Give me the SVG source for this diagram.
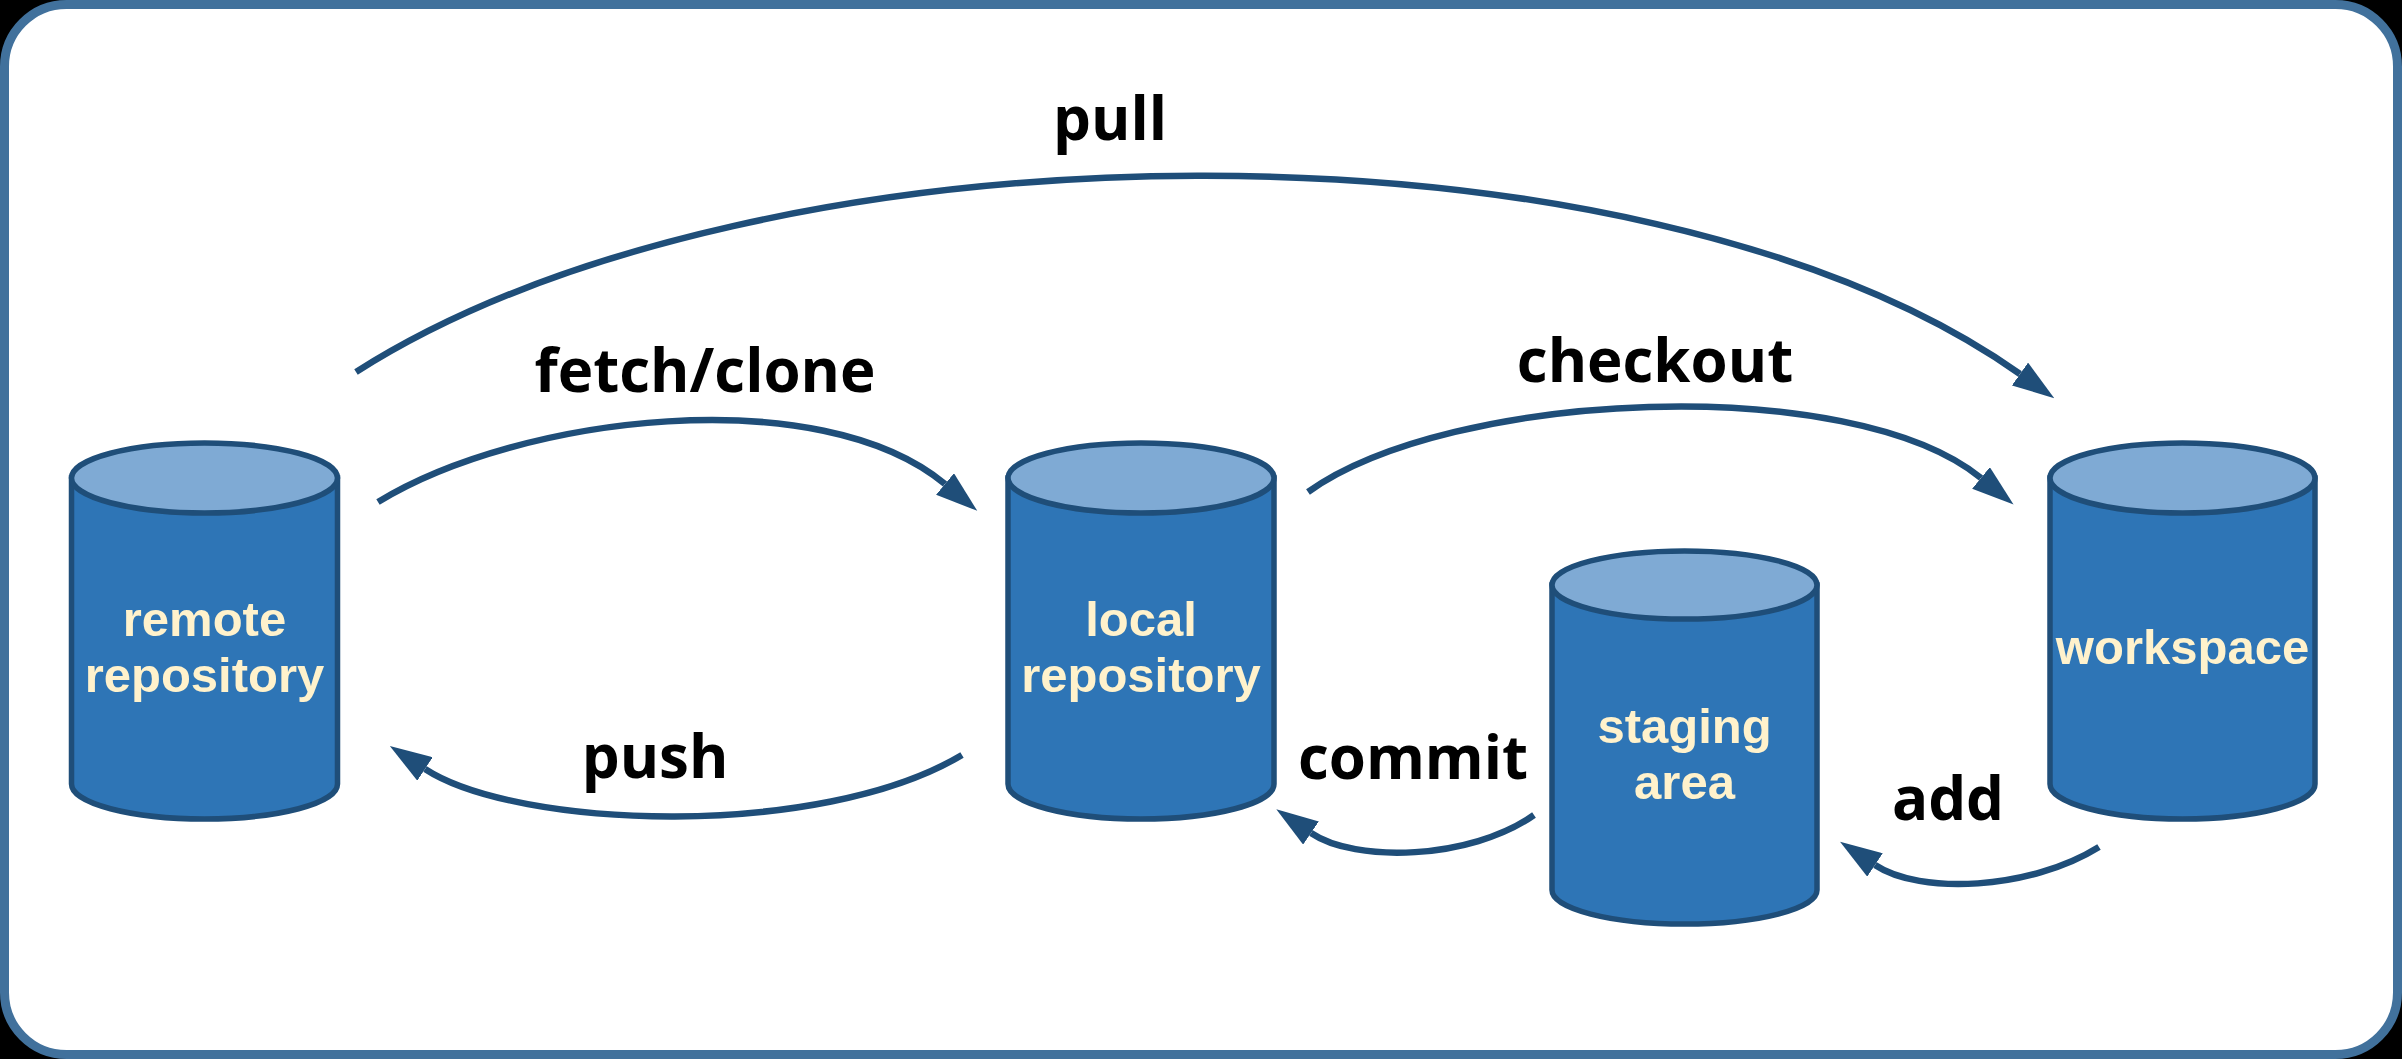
<svg xmlns="http://www.w3.org/2000/svg" width="2402" height="1059" viewBox="0 0 2402 1059">
<defs>
<style>
.frame{fill:#ffffff;stroke:#41719C;stroke-width:9}
.body{fill:#2E75B6;stroke:#1F4E79;stroke-width:5.5}
.top{fill:#7FAAD4;stroke:#1F4E79;stroke-width:5.5}
.ntext{font-family:"Liberation Sans",Arial,sans-serif;font-weight:bold;font-size:49px;fill:#FFF2CC;text-anchor:middle}
.ltext{font-family:"Open Sans","Noto Sans","Liberation Sans",sans-serif;font-weight:bold;font-size:60px;fill:#000000;text-anchor:middle}
.conn{fill:none;stroke:#1F4E79;stroke-width:6.5;marker-end:url(#arrow)}
</style>
<marker id="arrow" markerUnits="userSpaceOnUse" viewBox="0 -14 42 28" markerWidth="42" markerHeight="28" refX="0" refY="0" orient="auto">
<path d="M0,-14 L42,0 L0,14 Z" fill="#1F4E79"/>
</marker>
</defs>
<rect x="0" y="0" width="2402" height="1059" fill="#000000"/>
<rect class="frame" x="4.5" y="4.5" width="2393" height="1050" rx="62" ry="62"/>

<g id="remote">
<path class="body" d="M71.5,478 L71.5,784 A133,35 0 0 0 337.5,784 L337.5,478 Z"/>
<ellipse class="top" cx="204.5" cy="478" rx="133" ry="35"/>
<text class="ntext" x="204.5" y="636">remote</text>
<text class="ntext" x="204.5" y="692">repository</text>
</g>

<g id="local">
<path class="body" d="M1008,478 L1008,784 A133,35 0 0 0 1274,784 L1274,478 Z"/>
<ellipse class="top" cx="1141" cy="478" rx="133" ry="35"/>
<text class="ntext" x="1141" y="636">local</text>
<text class="ntext" x="1141" y="692">repository</text>
</g>

<g id="staging">
<path class="body" d="M1552,585 L1552,890 A132.5,34 0 0 0 1817,890 L1817,585 Z"/>
<ellipse class="top" cx="1684.5" cy="585" rx="132.5" ry="34"/>
<text class="ntext" x="1684.5" y="743">staging</text>
<text class="ntext" x="1684.5" y="799">area</text>
</g>

<g id="workspace">
<path class="body" d="M2050,478 L2050,784 A132.5,35 0 0 0 2315,784 L2315,478 Z"/>
<ellipse class="top" cx="2182.5" cy="478" rx="132.5" ry="35"/>
<text class="ntext" x="2182.5" y="664">workspace</text>
</g>

<g id="connectors">
<path class="conn" d="M356,372 C760,115 1640,105 2020,374"/>
<path class="conn" d="M378,502 C520,415 820,380 945,484"/>
<path class="conn" d="M1308,492 C1450,390 1851,372 1981,478"/>
<path class="conn" d="M962,755 C820,840 517,829 425,769"/>
<path class="conn" d="M1534,815 C1470,860 1355,863 1311,833"/>
<path class="conn" d="M2099,847 C2030,890 1920,895 1875,865"/>
<text class="ltext" x="1110" y="140">pull</text>
<text class="ltext" x="705" y="392">fetch/clone</text>
<text class="ltext" x="1655" y="382">checkout</text>
<text class="ltext" x="655" y="778">push</text>
<text class="ltext" x="1413" y="779">commit</text>
<text class="ltext" x="1948" y="820">add</text>
</g>
</svg>
